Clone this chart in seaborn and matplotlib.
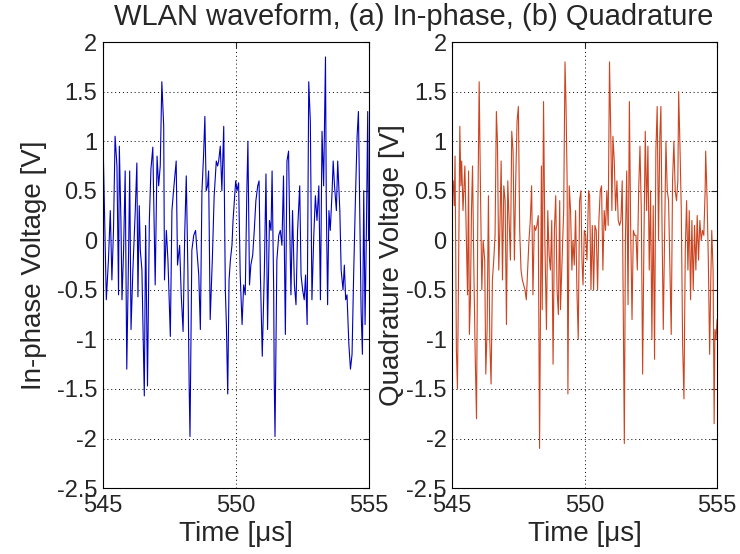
import numpy as np
import pandas as pd
import seaborn as sns
import matplotlib.pyplot as plt

# in-phase channel
t_i = [545.00, 545.13, 545.21, 545.28, 545.34, 545.40, 545.46, 545.53, 545.59, 545.62,
       545.68, 545.72, 545.78, 545.84, 545.90, 545.97, 546.01, 546.06, 546.13, 546.22,
       546.28, 546.32, 546.37, 546.41, 546.47, 546.56, 546.61, 546.68, 546.75, 546.81,
       546.88, 546.97, 547.04, 547.10, 547.16, 547.22, 547.29, 547.32, 547.39, 547.45,
       547.54, 547.60, 547.66, 547.76, 547.81, 547.89, 547.95, 548.02, 548.08, 548.14,
       548.20, 548.25, 548.28, 548.35, 548.42, 548.49, 548.54, 548.61,
       548.67, 548.73, 548.79, 548.84, 548.89, 548.94, 548.98, 549.04, 549.12, 549.19,
       549.27, 549.32, 549.36, 549.42, 549.48, 549.55, 549.61, 549.65, 549.70, 549.75,
       549.80, 549.86, 549.90, 549.95, 550.00, 550.05, 550.11, 550.17, 550.24, 550.30,
       550.36, 550.42, 550.46, 550.52, 550.57, 550.64, 550.70, 550.76, 550.83, 550.88,
       550.93, 551.00, 551.08, 551.14, 551.20, 551.27, 551.33, 551.37, 551.43, 551.45,
       551.48, 551.55, 551.62, 551.68, 551.74, 551.80, 551.87, 551.93, 551.99, 552.03,
       552.08, 552.14, 552.21, 552.27, 552.33, 552.41, 552.46, 552.52, 552.58, 552.63,
       552.69, 552.75, 552.81, 552.87, 552.94, 553.00, 553.06, 553.13, 553.19, 553.25,
       553.31, 553.38, 553.41, 553.46, 553.51, 553.56, 553.63, 553.67, 553.72, 553.79,
       553.84, 553.92, 553.97, 554.04, 554.09, 554.14, 554.19, 554.26, 554.32, 554.38,
       554.44, 554.51, 554.57, 554.62, 554.67, 554.72, 554.77, 554.82, 554.87, 554.92,
       554.97, 555.00]
v_i = [1.1, -0.6, -0.2, 0.3, -0.4, 0.1, 1.05, 0.75, -0.55, 0.95,
       0.2, -0.6, -0.1, 0.7, -1.3, -0.1, 0.7, -0.9, -0.3, 0.3,
       0.78, -0.57, 0.35, -0.1, -0.3, -1.57, 0.15, -1.47, 0.2, 0.72,
       0.94, -0.45, 0.85, 0.55, 0.75, 1.6, 1.15, -0.4, 0.1, -0.2,
       -0.97, 0.3, 0.5, 0.8, -0.25, -0.05, -0.55, -0.92, 0.05, 0.65,
       -0.3, -1.5, -1.98, -0.1, 0.05, 0.1, -0.1, -0.35,
       -0.9, 0.5, 0.85, 1.25, 0.5, 0.55, 0.7, -0.8, -0.2, 0.45,
       0.8, 0.75, 0.8, 0.95, 0.5, 1.15, -0.5, -0.85, -1.55, -0.4,
       -0.2, -0.05, 0.2, 0.4, 0.6, 0.5, 0.58, -0.35, -0.85, -0.45,
       -0.55, 0.5, 1.0, -0.45, -0.25, -0.15, 0.1, 0.4, 0.55, 0.6,
       -0.35, -1.17, -0.3, 0.67, -0.9, 0.2, 0.1, 0.7, -0.5, -1.4,
       -1.98, -0.2, 0.05, 0.1, -0.05, 0.65, -0.95, 0.8, 0.9, 0.2,
       -0.55, 0.3, -0.45, -0.65, 0.1, 0.55, -0.35, -0.5, -0.6, -0.35,
       -0.85, 1.6, 1.2, -0.6, 0.05, 0.45, 0.2, 0.55, -0.6, 1.1,
       0.55, 1.85, 0.4, -0.65, 0.3, 0.1, 0.5, 0.8, 0.55, 0.3,
       0.8, 0.3, -0.3, -0.5, -0.25, -0.6, -0.55, -1.05, -1.3, -1.15,
       -0.35, 0.45, 1.05, 1.3, 0.3, -0.7, -1.15, 0.5, -0.85, 0.1,
       1.3, 0.0]

# quadrature channel
t_q = [545.00, 545.04, 545.08, 545.11, 545.16, 545.20, 545.24, 545.29, 545.33, 545.36,
       545.41, 545.48, 545.54, 545.58, 545.62, 545.65, 545.69, 545.73, 545.77, 545.82,
       545.87, 545.92, 545.97, 546.02, 546.07, 546.12, 546.17, 546.23, 546.27, 546.32,
       546.37, 546.42, 546.47, 546.52, 546.57, 546.62, 546.67, 546.71, 546.76, 546.80,
       546.85, 546.90, 546.95, 547.00, 547.05, 547.10, 547.15, 547.20, 547.25, 547.30,
       547.35, 547.40, 547.45, 547.50, 547.55, 547.60, 547.65, 547.70, 547.75, 547.80,
       547.85, 547.90, 547.95, 548.00, 548.05, 548.10, 548.15, 548.20, 548.25, 548.28,
       548.30, 548.37, 548.40, 548.45, 548.50, 548.56, 548.61, 548.66, 548.71, 548.76,
       548.81, 548.86, 548.91, 548.96, 549.01, 549.06,
       549.09, 549.15, 549.21, 549.26, 549.30, 549.34, 549.37, 549.42, 549.47, 549.52,
       549.56, 549.61, 549.66, 549.71, 549.76, 549.81, 549.86, 549.90, 549.94, 549.99,
       550.04, 550.09, 550.15, 550.19, 550.24, 550.29, 550.34, 550.39, 550.44, 550.49,
       550.54, 550.59, 550.64, 550.69, 550.74, 550.79, 550.84, 550.89, 550.94, 550.99,
       551.03, 551.07, 551.12, 551.17, 551.22, 551.27, 551.32, 551.37, 551.42, 551.47,
       551.50, 551.54, 551.59, 551.64, 551.69, 551.74, 551.79, 551.84, 551.89, 551.94,
       551.99, 552.04, 552.09, 552.14, 552.19, 552.24, 552.29, 552.34, 552.39, 552.44,
       552.49, 552.54, 552.59, 552.64, 552.69, 552.74, 552.79, 552.84, 552.88, 552.92,
       552.97, 553.02, 553.07, 553.12, 553.17, 553.22, 553.27, 553.32, 553.37, 553.42,
       553.47, 553.52, 553.55, 553.60, 553.65, 553.70, 553.75, 553.80, 553.85, 553.90,
       553.95, 554.00, 554.05, 554.10, 554.15, 554.20, 554.25, 554.30, 554.35, 554.40,
       554.45, 554.50, 554.55, 554.57, 554.62, 554.67, 554.72, 554.76, 554.80, 554.85,
       554.89, 554.92, 554.96, 555.00]
v_q = [0.5, 0.6, 0.35, 0.85, -1.1, -1.5, -0.4, 1.15, 0.55, 0.8,
       0.3, 0.75, -0.05, -0.55, 0.7, -0.95, -0.6, 0.3, 0.75, -0.3,
       -1.15, -1.8, 0.3, 1.6, 0.5, -0.5, 0.0, -0.2, -1.35, -0.9,
       0.45, -1.0, -1.45, -0.4, -0.2, 0.05, 1.3, 1.0, -0.3, 0.1,
       0.8, -0.4, 0.55, 0.4, -0.85, 0.6, 0.2, -0.2, 1.1, 0.9,
       -0.2, 0.6, 1.2, 1.35, 0.1, -0.3, -0.4, -0.45, -0.5, -0.6,
       -0.3, 0.0, 0.2, 0.55, -0.55, 0.15, 0.1, 0.15, 0.25, -1.1,
       -2.1, 0.75, -0.7, 1.4, 0.0, -0.9, 0.3, -0.15, -0.3, 0.2,
       -1.25, 0.1, 0.45, -0.5, -0.75, 0.4,
       -0.7, -0.2, 0.3, 1.8, 1.35, 0.6, -1.55, 0.55, 0.3, -0.3,
       0.0, -0.25, 0.3, -0.5, -1.0, 0.4, 0.5, -0.2, -0.45, 0.1,
       0.05, -0.2, 0.5, 0.45, -0.5, 0.15, -0.5, 0.15, 0.1, -0.5,
       0.2, 0.5, 0.55, -0.3, 0.3, 0.1, 0.5, 0.15, 1.8, 1.05,
       0.3, 1.05, 0.8, 0.3, 0.6, 0.2, 0.15, 0.2, 0.6, -1.1,
       -2.05, 0.0, 0.7, -0.65, 1.4, 0.1, -0.8, 0.1, 0.05, 0.05,
       -0.3, 0.5, 0.95, 0.3, -1.35, 0.0, 1.1, 0.3, 0.95, -0.3,
       0.5, -1.0, 0.35, -1.2, 0.9, 1.35, 0.0, 1.05, 1.35, 0.2,
       -0.9, 0.05, 1.0, 0.5, 0.4, -0.25, -0.95, 0.6, 1.0, 0.5,
       0.4, 0.6, 1.5, 0.95, 0.3, -1.05, -1.6, -0.1, 0.4, -0.3,
       0.3, -0.6, 0.2, -0.5, 0.15, -0.3, 0.25, -0.2, 0.2, 0.0,
       0.1, 0.05, 0.5, 0.9, 0.45, -0.2, -1.15, -0.45, 0.1, -0.3,
       -1.85, -0.9, -1.0, -0.8]

y_ticks = [-2.5, -2, -1.5, -1, -0.5, 0, 0.5, 1, 1.5, 2]
x_ticks = [545, 550, 555]

df_i = pd.DataFrame({"t": t_i, "v": v_i})
df_q = pd.DataFrame({"t": t_q, "v": v_q})

sns.set_style("white")
plt.rcParams["font.family"] = ["Liberation Sans", "DejaVu Sans"]

fig = plt.figure(figsize=(7.4, 5.54), dpi=100)
ax1 = fig.add_axes([0.139, 0.119, 0.359, 0.805])
ax2 = fig.add_axes([0.611, 0.119, 0.358, 0.805])

sns.lineplot(data=df_i, x="t", y="v", ax=ax1, color="#0000c0", linewidth=0.8,
             estimator=None, sort=False)
sns.lineplot(data=df_q, x="t", y="v", ax=ax2, color="#cc4420", linewidth=0.8,
             estimator=None, sort=False)

for ax, lab, lx in [(ax1, "In-phase Voltage [V]", -0.21),
                    (ax2, "Quadrature Voltage [V]", -0.178)]:
    ax.set_xlim(545, 555)
    ax.set_ylim(-2.5, 2)
    ax.set_xticks(x_ticks)
    ax.set_yticks(y_ticks)
    ax.set_yticklabels([f"{v:g}" for v in y_ticks])
    ax.grid(True, linestyle=(0, (1, 3)), color="k", linewidth=0.7)
    ax.tick_params(direction="in", top=True, right=True, length=4,
                   labelsize=17, pad=4)
    ax.tick_params(axis="x", pad=5)
    for s in ax.spines.values():
        s.set_color("k")
        s.set_linewidth(0.8)
    ax.set_xlabel("Time [μs]", fontsize=20, labelpad=3)
    ax.set_ylabel(lab, fontsize=20)
    ax.yaxis.set_label_coords(lx, 0.5)

fig.text(0.559, 0.955, "WLAN waveform, (a) In-phase, (b) Quadrature",
         ha="center", va="baseline", fontsize=21)

fig.savefig("out.png", dpi=100)
